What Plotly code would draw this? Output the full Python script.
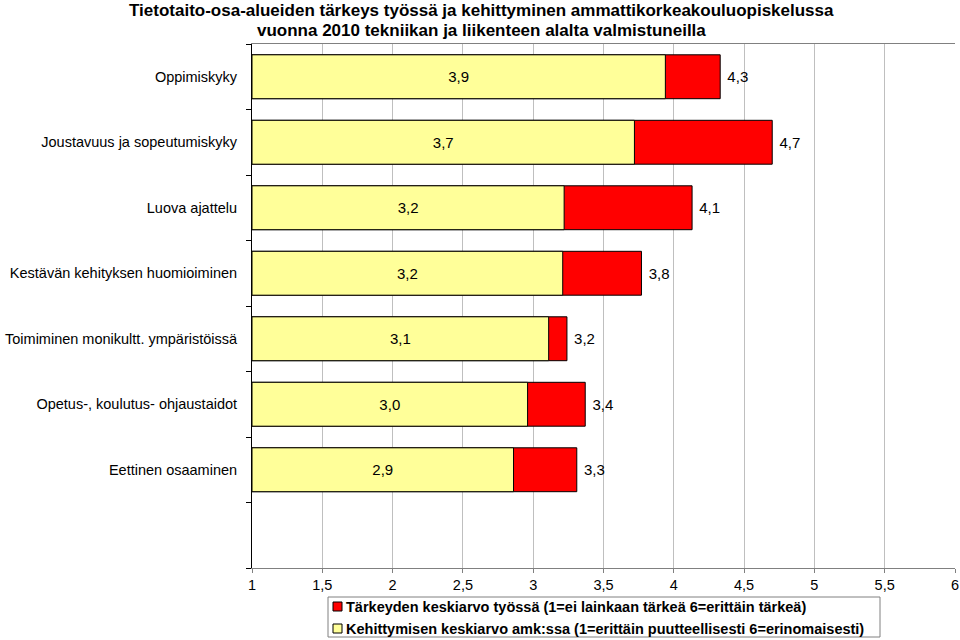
import plotly.graph_objects as go

categories = [
    "Oppimiskyky",
    "Joustavuus ja sopeutumiskyky",
    "Luova ajattelu",
    "Kestävän kehityksen huomioiminen",
    "Toimiminen monikultt. ympäristöissä",
    "Opetus-, koulutus- ohjaustaidot",
    "Eettinen osaaminen",
]
importance = [4.33, 4.70, 4.13, 3.77, 3.24, 3.37, 3.31]   # Tärkeyden keskiarvo työssä
development = [3.94, 3.72, 3.22, 3.21, 3.11, 2.96, 2.86]  # Kehittymisen keskiarvo amk:ssa
x_ticks = [1, 1.5, 2, 2.5, 3, 3.5, 4, 4.5, 5, 5.5, 6]
legend_names = [
    "Tärkeyden keskiarvo työssä (1=ei lainkaan tärkeä 6=erittäin tärkeä)",
    "Kehittymisen keskiarvo amk:ssa (1=erittäin puutteellisesti 6=erinomaisesti)",
]
title_lines = [
    "Tietotaito-osa-alueiden tärkeys työssä ja kehittyminen ammattikorkeakouluopiskelussa",
    "vuonna 2010 tekniikan ja liikenteen alalta valmistuneilla",
]
colors = ["#FF0000", "#FFFF99"]

n = len(categories)
ypos = [n - i for i in range(n)]  # top category highest, one empty slot at bottom
base_val = 1

W, H = 960, 640
ML, MR, MT, MB = 252, 5, 44, 72
PW, PH = W - ML - MR, H - MT - MB
FONT = "Liberation Sans, Arial"


def px(xp):
    return (xp - ML) / PW


def py(yp):
    return (H - MB - yp) / PH


def fmt(v):
    return f"{v:.1f}".replace(".", ",")


fig = go.Figure()
fig.add_trace(go.Bar(
    y=ypos, x=[v - base_val for v in importance], base=base_val, orientation="h",
    name=legend_names[0],
    marker=dict(color=colors[0], line=dict(color="#000000", width=1)),
    width=0.67, text=["\u00a0" + fmt(v) for v in importance], textposition="outside",
    textfont=dict(family=FONT, size=15, color="#000000"),
    cliponaxis=False, hoverinfo="skip",
))
fig.add_trace(go.Bar(
    y=ypos, x=[v - base_val for v in development], base=base_val, orientation="h",
    name=legend_names[1],
    marker=dict(color=colors[1], line=dict(color="#000000", width=1)),
    width=0.67, text=[fmt(v) for v in development], textposition="inside",
    insidetextanchor="middle",
    textfont=dict(family=FONT, size=15, color="#000000"),
    hoverinfo="skip",
))

shapes = [
    dict(type="rect", xref="paper", yref="paper", x0=px(328), x1=px(880), y0=py(637), y1=py(597),
         line=dict(color="#808080", width=1), fillcolor="white", layer="above"),
]
annotations = []
for i, line in enumerate(title_lines):
    annotations.append(dict(text=line, xref="paper", yref="paper", x=px(481), y=py(10.5 + 20 * i),
                            xanchor="center", yanchor="middle", showarrow=False,
                            font=dict(family=FONT, size=17, color="#000000", weight="bold")))
for i, (name, col) in enumerate(zip(legend_names, colors)):
    cy = 606.5 + 22 * i
    shapes.append(dict(type="rect", xref="paper", yref="paper", x0=px(333), x1=px(342),
                       y0=py(cy + 4.5), y1=py(cy - 4.5), line=dict(color="#000000", width=1),
                       fillcolor=col, layer="above"))
    annotations.append(dict(text=name, xref="paper", yref="paper", x=px(344), y=py(cy),
                            xanchor="left", yanchor="middle", showarrow=False,
                            font=dict(family=FONT, size=14.5, color="#000000", weight="bold")))

fig.update_layout(
    width=W, height=H,
    barmode="overlay",
    separators=", ",
    paper_bgcolor="white", plot_bgcolor="white",
    margin=dict(l=ML, r=MR, t=MT, b=MB, autoexpand=False),
    font=dict(family=FONT, size=14.5, color="#000000"),
    showlegend=False,
    shapes=shapes,
    annotations=annotations,
)
fig.update_xaxes(
    range=[1, 6], tickvals=x_ticks, showgrid=True, gridcolor="#BFBFBF", gridwidth=1,
    showline=True, linecolor="#808080", linewidth=1, mirror=True,
    ticks="outside", ticklen=4, tickcolor="#808080", zeroline=False,
    tickfont=dict(size=14.5), automargin=False,
)
fig.update_yaxes(
    range=[-0.5, n + 0.5], tickvals=ypos, ticktext=categories,
    showgrid=False, zeroline=False, showline=True, linecolor="#000000", linewidth=1,
    ticks="", ticklabelstandoff=11, automargin=False,
    minor=dict(tickmode="linear", tick0=0.5, dtick=1, ticks="outside", ticklen=5,
               tickcolor="#000000", showgrid=False),
    tickfont=dict(size=14.5),
)

fig.write_html("out.html", config={"displayModeBar": False},
               post_script="document.body.style.margin='0px';")
